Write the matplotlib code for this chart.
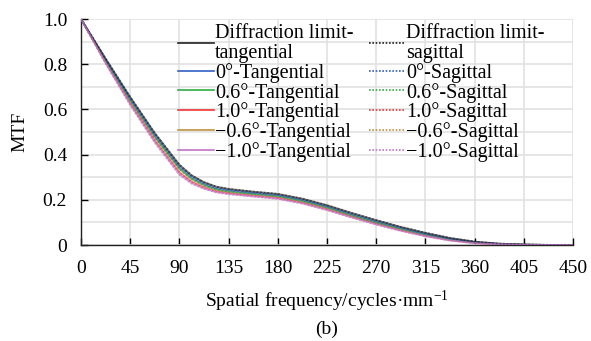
import matplotlib
matplotlib.use("Agg")
import matplotlib.pyplot as plt

plt.rcParams['font.family'] = ['Liberation Serif', 'DejaVu Serif']
plt.rcParams['mathtext.fontset'] = 'custom'
plt.rcParams['mathtext.rm'] = 'Liberation Serif'
plt.rcParams['mathtext.it'] = 'Liberation Serif:italic'

freq = [0, 22.5, 45, 67.5, 90, 101.25, 112.5, 123.75, 135, 157.5, 180, 202.5, 225, 247.5,
        270, 292.5, 315, 337.5, 360, 382.5, 405, 427.5, 450]

diff_t = [1.0, 0.825, 0.655, 0.495, 0.355, 0.308, 0.278, 0.258, 0.248, 0.236, 0.226, 0.205, 0.176, 0.142,
          0.110, 0.080, 0.054, 0.031, 0.015, 0.006, 0.002, 0.0005, 0.0]
diff_s = [1.0, 0.825, 0.655, 0.495, 0.355, 0.308, 0.278, 0.258, 0.248, 0.236, 0.226, 0.205, 0.176, 0.142,
          0.110, 0.080, 0.054, 0.031, 0.015, 0.006, 0.002, 0.0005, 0.0]
f0_t = [1.0, 0.820, 0.648, 0.487, 0.347, 0.301, 0.272, 0.252, 0.243, 0.231, 0.221, 0.200, 0.171, 0.137,
        0.105, 0.076, 0.050, 0.028, 0.013, 0.005, 0.0015, 0.0003, 0.0]
f0_s = [1.0, 0.820, 0.647, 0.486, 0.346, 0.300, 0.271, 0.251, 0.242, 0.230, 0.220, 0.199, 0.170, 0.136,
        0.104, 0.075, 0.049, 0.027, 0.013, 0.005, 0.0015, 0.0003, 0.0]
f06_t = [1.0, 0.815, 0.640, 0.478, 0.338, 0.293, 0.265, 0.246, 0.237, 0.226, 0.216, 0.195, 0.166, 0.132,
         0.100, 0.071, 0.046, 0.025, 0.011, 0.004, 0.001, 0.0002, 0.0]
f06_s = [1.0, 0.814, 0.638, 0.476, 0.336, 0.291, 0.263, 0.245, 0.236, 0.225, 0.215, 0.194, 0.165, 0.131,
         0.099, 0.070, 0.045, 0.024, 0.011, 0.004, 0.001, 0.0002, 0.0]
f10_t = [1.0, 0.808, 0.628, 0.463, 0.322, 0.280, 0.255, 0.238, 0.230, 0.219, 0.209, 0.188, 0.159, 0.126,
         0.095, 0.066, 0.042, 0.022, 0.009, 0.003, 0.001, 0.0001, 0.0]
f10_s = [1.0, 0.806, 0.625, 0.460, 0.319, 0.278, 0.253, 0.236, 0.228, 0.218, 0.208, 0.187, 0.158, 0.125,
         0.094, 0.065, 0.041, 0.021, 0.009, 0.003, 0.001, 0.0001, 0.0]
fm06_t = [1.0, 0.815, 0.640, 0.478, 0.338, 0.293, 0.265, 0.246, 0.237, 0.226, 0.216, 0.195, 0.166, 0.132,
          0.100, 0.071, 0.046, 0.025, 0.011, 0.004, 0.001, 0.0002, 0.0]
fm06_s = [1.0, 0.814, 0.638, 0.476, 0.336, 0.291, 0.263, 0.245, 0.236, 0.225, 0.215, 0.194, 0.165, 0.131,
          0.099, 0.070, 0.045, 0.024, 0.011, 0.004, 0.001, 0.0002, 0.0]
fm10_t = [1.0, 0.805, 0.622, 0.455, 0.313, 0.273, 0.250, 0.234, 0.226, 0.215, 0.205, 0.184, 0.155, 0.122,
          0.091, 0.063, 0.039, 0.020, 0.008, 0.003, 0.0008, 0.0001, 0.0]
fm10_s = [1.0, 0.803, 0.619, 0.452, 0.310, 0.271, 0.248, 0.232, 0.224, 0.214, 0.204, 0.183, 0.154, 0.121,
          0.090, 0.062, 0.038, 0.019, 0.008, 0.003, 0.0008, 0.0001, 0.0]

labels_t = ["Diffraction limit-\ntangential", "0°-Tangential", "0.6°-Tangential",
            "1.0°-Tangential", "−0.6°-Tangential", "−1.0°-Tangential"]
labels_s = ["Diffraction limit-\nsagittal", "0°-Sagittal", "0.6°-Sagittal",
            "1.0°-Sagittal", "−0.6°-Sagittal", "−1.0°-Sagittal"]
series_t = [diff_t, f0_t, f06_t, f10_t, fm06_t, fm10_t]
series_s = [diff_s, f0_s, f06_s, f10_s, fm06_s, fm10_s]
colors = ["#222222", "#2f5fc4", "#2fae45", "#f03535", "#c0913f", "#c274c6"]

xticks = [0, 45, 90, 135, 180, 225, 270, 315, 360, 405, 450]
yticks = [0, 0.2, 0.4, 0.6, 0.8, 1.0]
ytick_labels = ["0", "0.2", "0.4", "0.6", "0.8", "1.0"]

fig = plt.figure(figsize=(5.91, 3.41), dpi=100)
ax = fig.add_axes([81/591, 1-245/341, (573-81)/591, (245-19)/341])

handles_t, handles_s = [], []
n = len(colors)
for i, (ys, c, lab) in enumerate(zip(series_t, colors, labels_t)):
    z = 3 + (n - i) if i < n - 1 else 3 + n + 1
    h, = ax.plot(freq, ys, color=c, lw=1.3, ls='-', label=lab, alpha=0.6, zorder=z)
    handles_t.append(h)
for i, (ys, c, lab) in enumerate(zip(series_s, colors, labels_s)):
    z = 3 + (n - i) if i < n - 1 else 3 + n + 1
    h, = ax.plot(freq, ys, color=c, lw=1.3, ls=(0, (1, 1)), label=lab, alpha=0.6, zorder=z)
    handles_s.append(h)

ax.set_xlim(0, 450)
ax.set_ylim(0, 1.0)
ax.set_xticks(xticks)
ax.set_xticklabels([str(t) for t in xticks])
ax.set_yticks(yticks)
ax.set_yticklabels(ytick_labels)
ax.set_yticks([0.1, 0.3, 0.5, 0.7, 0.9], minor=True)
ax.tick_params(axis='y', which='minor', length=0)
ax.grid(True, which='both', axis='y', color='#e2e2e2', lw=1.2)
ax.grid(True, which='major', axis='x', color='#e2e2e2', lw=1.2)
ax.set_axisbelow(True)
ax.tick_params(axis='both', which='major', direction='in', length=5, width=1.0,
               labelsize=14)
ax.tick_params(axis='y', pad=10)
ax.tick_params(axis='x', pad=11)
for s in ['top', 'right']:
    ax.spines[s].set_visible(False)
for s in ['left', 'bottom']:
    ax.spines[s].set_linewidth(1.0)
    ax.spines[s].set_color('#222222')

ax.set_ylabel("MTF", fontsize=14, labelpad=10)
ax.set_xlabel("Spatial frequency/cycles·mm$^{-1}$", fontsize=14, labelpad=8)
fig.text(327/591, 1-329/341, "(b)", fontsize=14, ha='center', va='center')

leg = ax.legend(handles_t + handles_s, labels_t + labels_s, ncol=2, frameon=False,
                loc='upper left', bbox_to_anchor=((178-81)/492, 1.0 - 5/226),
                fontsize=14.5, handlelength=1.8, handletextpad=0.05,
                columnspacing=0.75, labelspacing=0.0, borderaxespad=0, borderpad=0)
for t in leg.get_texts():
    t.set_linespacing(1.05)
for lh in leg.get_lines():
    lh.set_alpha(1.0)
    lh.set_linewidth(1.2)

fig.savefig("out.png", dpi=100)
